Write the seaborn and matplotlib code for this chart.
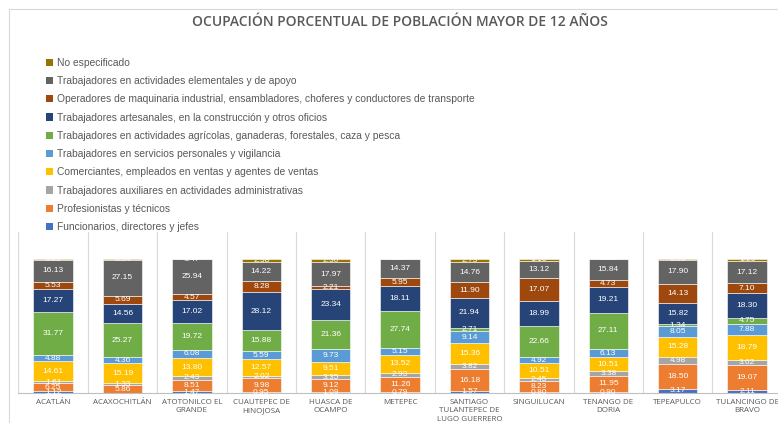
import numpy as np
import pandas as pd
import matplotlib
matplotlib.use("Agg")
import matplotlib.pyplot as plt
import seaborn as sns
from matplotlib.patches import Rectangle, Patch
from matplotlib import font_manager

municipios = ["Acatlán", "Acaxochitlán", "Atotonilco el Grande", "Cuautepec de Hinojosa",
              "Huasca de Ocampo", "Metepec", "Santiago Tulantepec de Lugo Guerrero",
              "Singuilucan", "Tenango de Doria", "Tepeapulco", "Tulancingo de Bravo"]
etiquetas = ["ACATLÁN", "ACAXOCHITLÁN", "ATOTONILCO EL\nGRANDE", "CUAUTEPEC DE\nHINOJOSA",
             "HUASCA DE\nOCAMPO", "METEPEC", "SANTIAGO\nTULANTEPEC DE\nLUGO GUERRERO",
             "SINGUILUCAN", "TENANGO DE\nDORIA", "TEPEAPULCO", "TULANCINGO DE\nBRAVO"]

series = ["Funcionarios, directores y jefes",
          "Profesionistas y técnicos",
          "Trabajadores auxiliares en actividades administrativas",
          "Comerciantes, empleados en ventas y agentes de ventas",
          "Trabajadores en servicios personales y vigilancia",
          "Trabajadores en actividades agrícolas, ganaderas, forestales, caza y pesca",
          "Trabajadores artesanales, en la construcción y otros oficios",
          "Operadores de maquinaria industrial, ensambladores, choferes y conductores de transporte",
          "Trabajadores en actividades elementales y de apoyo",
          "No especificado"]

funcionarios = [1.12, 0.00, 1.47, 0.95, 1.09, 0.79, 1.57, 0.80, 0.90, 3.17, 2.11]
profesionistas = [6.25, 5.86, 8.51, 9.98, 9.12, 11.26, 16.18, 8.23, 11.95, 18.50, 19.07]
auxiliares = [1.61, 1.33, 2.43, 2.02, 3.35, 2.93, 3.82, 2.45, 3.38, 4.98, 3.62]
comerciantes = [14.61, 15.19, 13.80, 12.57, 9.51, 13.52, 15.36, 10.51, 10.51, 15.28, 18.79]
servicios = [4.88, 4.36, 6.08, 5.59, 9.73, 5.15, 9.14, 4.92, 6.13, 8.05, 7.88]
agricolas = [31.77, 25.27, 19.72, 15.88, 21.36, 27.74, 2.71, 22.66, 27.11, 1.34, 4.75]
artesanales = [17.27, 14.56, 17.02, 28.12, 23.34, 18.11, 21.94, 18.99, 19.21, 15.82, 18.30]
operadores = [5.53, 5.69, 4.57, 8.28, 2.21, 5.95, 11.90, 17.07, 4.73, 14.13, 7.10]
elementales = [16.13, 27.15, 25.94, 14.22, 17.97, 14.37, 14.76, 13.12, 15.84, 17.90, 17.12]
no_especificado = [0.83, 0.54, 0.47, 2.38, 2.30, 0.27, 2.73, 1.16, 0.25, 0.83, 1.25]

valores = [funcionarios, profesionistas, auxiliares, comerciantes, servicios,
           agricolas, artesanales, operadores, elementales, no_especificado]
colores = ["#4472C4", "#ED7D31", "#A5A5A5", "#FFC000", "#5B9BD5",
           "#70AD47", "#264478", "#9E480E", "#636363", "#997300"]

sns.set_theme(style="white")
plt.rcParams["font.family"] = ["Open Sans", "DejaVu Sans"]

installed = {f.name for f in font_manager.fontManager.ttflist}
narrow = "Liberation Sans Narrow" if "Liberation Sans Narrow" in installed else (
    "Liberation Sans" if "Liberation Sans" in installed else "DejaVu Sans")
narrow_fam = [narrow, "DejaVu Sans"]

W, H = 778, 423
fig = plt.figure(figsize=(W / 100, H / 100), dpi=100)
ax = fig.add_axes([18.4 / W, 30 / H, 11 * 69.4 / W, 161 / H])

bottom = np.zeros(len(municipios))
for name, vals, col in zip(series, valores, colores):
    vals = np.array(vals, dtype=float)
    sns.barplot(x=municipios, y=vals, color=col, bottom=bottom, width=0.57,
                errorbar=None, ax=ax, edgecolor="white", linewidth=0.4,
                saturation=1)
    bottom = bottom + vals

for cont, vals in zip(ax.containers, valores):
    labs = [f"{v:.2f}" if v > 0.05 else "" for v in vals]
    ax.bar_label(cont, labels=labs, label_type="center", color="white",
                 fontsize=6, family=narrow_fam)

ax.set_xlim(-0.5, len(municipios) - 0.5)
ax.set_ylim(0, 120)
ax.set_yticks([])
ax.set_ylabel("")
for i in range(len(municipios) + 1):
    ax.axvline(i - 0.5, color="#D9D9D9", lw=0.8, zorder=0)
for s in ["top", "right", "left"]:
    ax.spines[s].set_visible(False)
ax.spines["bottom"].set_color("#BFBFBF")
ax.spines["bottom"].set_linewidth(0.8)
ax.set_xticks(range(len(municipios)))
ax.set_xticklabels(etiquetas, fontsize=5.8, color="#595959", linespacing=1.3)
ax.tick_params(axis="x", length=0, pad=4)

fig.text(400 / W, 1 - 22 / H, "OCUPACIÓN PORCENTUAL DE POBLACIÓN MAYOR DE 12 AÑOS",
         ha="center", va="center", fontsize=10, color="#595959", fontweight="semibold")

# size the legend font so the longest entry spans the reference width (~417 px)
renderer = fig.canvas.get_renderer()
probe = fig.text(0, 0, max(series, key=len), fontsize=10, family=narrow_fam)
wpx = probe.get_window_extent(renderer).width
probe.remove()
leg_size = min(8.5, 10 * 417 / wpx)
leg_px = leg_size * 100 / 72
spacing = max(0.2, (18.2 - leg_px * 1.17) / leg_px) + 2.0 / leg_px

handles = [Patch(facecolor=c, edgecolor="none", label=n) for n, c in zip(series, colores)][::-1]
fig.legend(handles=handles, loc="upper left", bbox_to_anchor=(46 / W, 1 - (64 - 0.6 * leg_px) / H),
           frameon=False, labelcolor="#595959",
           handlelength=0.7, handleheight=0.7, handletextpad=0.35,
           labelspacing=spacing, borderpad=0, borderaxespad=0,
           prop={"family": narrow_fam, "size": leg_size})

fig.patches.append(Rectangle((9 / W, -0.2), 1.5, 1.2 - 9 / H, transform=fig.transFigure,
                             fill=False, edgecolor="#D9D9D9", lw=0.8))

fig.savefig("out.png", dpi=100)
